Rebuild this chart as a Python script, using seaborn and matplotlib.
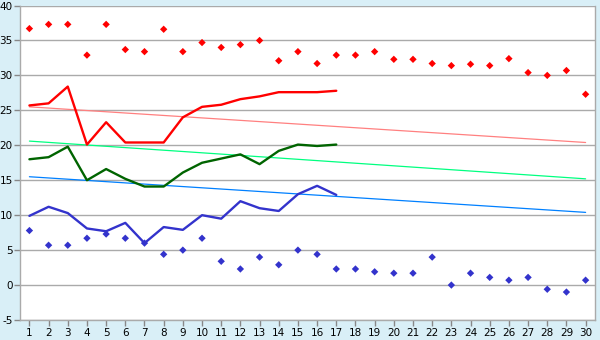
import matplotlib
matplotlib.use("Agg")
import matplotlib.pyplot as plt
import seaborn as sns
import pandas as pd
import numpy as np

days = list(range(1, 31))
record_max = [36.7, 37.3, 37.3, 32.9, 37.3, 33.7, 33.4, 36.6, 33.4, 34.7,
              34.0, 34.4, 35.0, 32.1, 33.4, 31.7, 32.9, 32.9, 33.4, 32.3,
              32.3, 31.7, 31.4, 31.6, 31.4, 32.4, 30.4, 30.0, 30.7, 27.3]
record_min = [7.8, 5.7, 5.7, 6.7, 7.3, 6.7, 6.0, 4.4, 5.0, 6.7,
              3.4, 2.3, 4.0, 2.9, 5.0, 4.4, 2.3, 2.3, 1.9, 1.7,
              1.7, 4.0, 0.0, 1.7, 1.1, 0.7, 1.1, -0.6, -1.0, 0.7]
obs_days = list(range(1, 18))
tmax = [25.7, 26.0, 28.4, 20.1, 23.3, 20.4, 20.4, 20.4, 24.0, 25.5,
        25.8, 26.6, 27.0, 27.6, 27.6, 27.6, 27.8]
tmean = [18.0, 18.3, 19.8, 15.0, 16.6, 15.2, 14.1, 14.1, 16.1, 17.5,
         18.1, 18.7, 17.3, 19.2, 20.1, 19.9, 20.1]
tmin = [9.9, 11.2, 10.3, 8.1, 7.7, 8.9, 6.0, 8.3, 7.9, 10.0,
        9.5, 12.0, 11.0, 10.6, 13.0, 14.2, 12.9]
trend_days = [1, 30]
trend_max = [25.5, 20.4]
trend_mean = [20.6, 15.2]
trend_min = [15.5, 10.4]
yticks = list(range(-5, 41, 5))
ytick_labels = [str(v) for v in yticks]

sns.set_theme(style="white")
plt.rcParams['font.family'] = ['DejaVu Sans']
plt.rcParams['axes.unicode_minus'] = False

bg = "#D9EFF7"
fig = plt.figure(figsize=(6, 3.4), dpi=100, facecolor=bg)
ax = fig.add_axes([0.034, 0.0588, 0.958, 0.925])
ax.set_facecolor("white")

for y in yticks:
    ax.axhline(y, color="#AAAAAA", lw=1, zorder=0)

df_trend = pd.DataFrame({"day": trend_days * 3,
                         "val": trend_max + trend_mean + trend_min,
                         "s": ["a"] * 2 + ["b"] * 2 + ["c"] * 2})
sns.lineplot(data=df_trend, x="day", y="val", hue="s",
             palette=["#FF8080", "#00FF80", "#0080FF"], lw=0.9,
             legend=False, ax=ax, zorder=2)

df_obs = pd.DataFrame({"day": obs_days * 3,
                       "val": tmax + tmean + tmin,
                       "s": ["max"] * 17 + ["mean"] * 17 + ["min"] * 17})
sns.lineplot(data=df_obs, x="day", y="val", hue="s",
             palette=["#FF0000", "#006400", "#3333CC"], lw=1.7,
             legend=False, ax=ax, zorder=3)

df_rec = pd.DataFrame({"day": days * 2, "val": record_max + record_min,
                       "s": ["rmax"] * 30 + ["rmin"] * 30})
sns.scatterplot(data=df_rec, x="day", y="val", hue="s",
                palette=["#FF0000", "#3333CC"], marker="D", s=14,
                linewidth=0, legend=False, ax=ax, zorder=4)

ax.set_xlim(0.53, 30.5)
ax.set_ylim(-5, 40)
ax.set_xticks(days)
ax.set_yticks(yticks)
ax.set_yticklabels(ytick_labels)
ax.set_xlabel("")
ax.set_ylabel("")
ax.tick_params(axis="both", labelsize=7.5, length=4, width=1,
               color="#888888", labelcolor="black", pad=2, direction="out")
ax.tick_params(axis="x", bottom=True)
ax.tick_params(axis="y", left=True, pad=1.5)
for side in ["left", "bottom", "right"]:
    ax.spines[side].set_color("#AAAAAA")
    ax.spines[side].set_linewidth(1)
    ax.spines[side].set_visible(True)
ax.spines["top"].set_visible(False)

fig.savefig("out.png", dpi=100, facecolor=bg)
